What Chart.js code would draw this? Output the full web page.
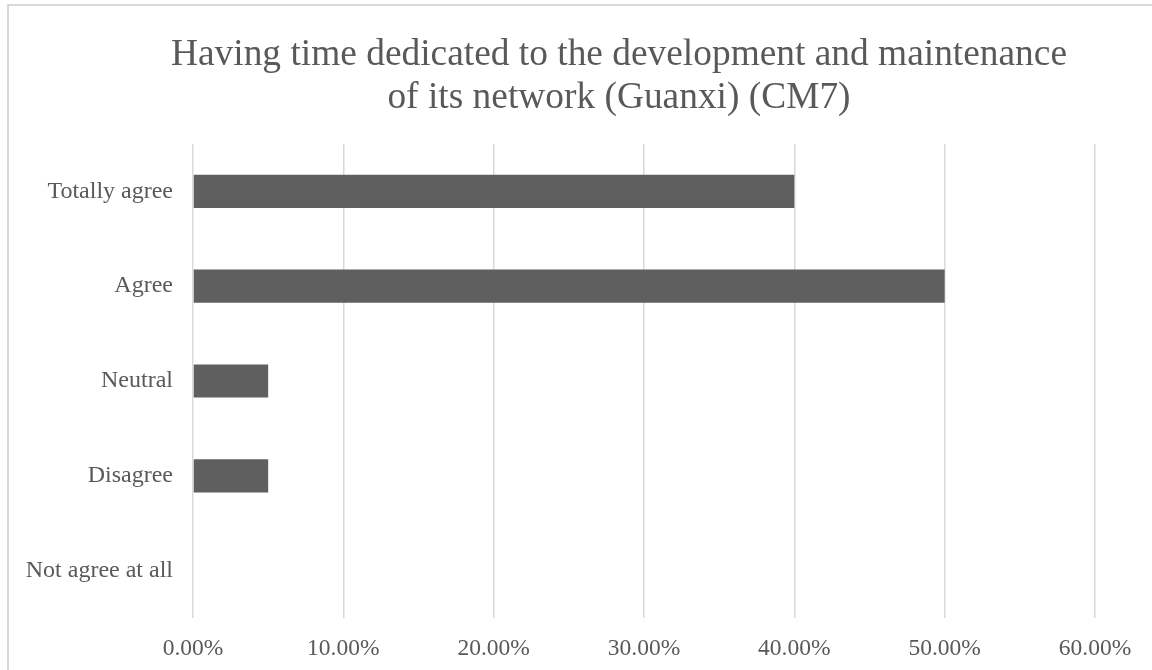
<!DOCTYPE html>
<html>
<head>
<meta charset="utf-8">
<script src="https://cdn.jsdelivr.net/npm/chart.js@4/dist/chart.umd.min.js"></script>
<style>
  html, body { margin: 0; padding: 0; background: #ffffff; }
  #wrap { width: 1152px; height: 670px; }
</style>
</head>
<body>
<div id="wrap"><canvas id="c" width="1152" height="670"></canvas></div>
<script>
const categories = ['Totally agree', 'Agree', 'Neutral', 'Disagree', 'Not agree at all'];
const percentValues = [40, 50, 5, 5, 0];
const xTickValues = [0, 10, 20, 30, 40, 50, 60];
const xTickLabels = ['0.00%', '10.00%', '20.00%', '30.00%', '40.00%', '50.00%', '60.00%'];
const titleLines = ['Having time dedicated to the development and maintenance', 'of its network (Guanxi) (CM7)'];

const serif = "'Liberation Serif', 'Times New Roman', 'DejaVu Serif', serif";
const textColor = '#595959';

const frame = {
  id: 'frame',
  beforeDraw(chart) {
    const ctx = chart.ctx;
    ctx.save();
    ctx.fillStyle = '#ffffff';
    ctx.fillRect(0, 0, chart.width, chart.height);
    ctx.strokeStyle = '#d9d9d9';
    ctx.lineWidth = 2;
    ctx.beginPath();
    ctx.moveTo(8, chart.height);
    ctx.lineTo(8, 5);
    ctx.lineTo(chart.width, 5);
    ctx.stroke();
    ctx.restore();
  },
  afterDraw(chart) {
    const ctx = chart.ctx;
    ctx.save();
    ctx.fillStyle = textColor;
    ctx.font = '37.4px ' + serif;
    ctx.textAlign = 'center';
    ctx.textBaseline = 'alphabetic';
    ctx.fillText(titleLines[0], 619, 65);
    ctx.fillText(titleLines[1], 619, 107.5);
    ctx.restore();
  }
};

new Chart(document.getElementById('c'), {
  type: 'bar',
  data: {
    labels: categories,
    datasets: [{
      data: percentValues,
      backgroundColor: '#5f5f5f',
      borderWidth: 0,
      categoryPercentage: 1.0,
      barPercentage: 0.35
    }]
  },
  options: {
    indexAxis: 'y',
    responsive: false,
    devicePixelRatio: 1,
    animation: false,
    layout: { padding: { left: 0, right: 57, top: 144, bottom: 0 } },
    plugins: {
      legend: { display: false },
      tooltip: { enabled: false },
      title: { display: false }
    },
    scales: {
      x: {
        type: 'linear',
        min: 0,
        max: 60,
        afterBuildTicks(scale) {
          scale.ticks = xTickValues.map(v => ({ value: v }));
        },
        afterFit(scale) { scale.height = 52; },
        grid: { color: '#d9d9d9', lineWidth: 1.5, drawTicks: false, tickLength: 0 },
        border: { display: false },
        ticks: {
          color: textColor,
          font: { family: serif, size: 23.5 },
          padding: 17,
          maxRotation: 0,
          callback: (v, i) => xTickLabels[i]
        }
      },
      y: {
        afterFit(scale) { scale.width = 193; },
        grid: { display: false, drawTicks: false, tickLength: 0 },
        border: { display: false },
        ticks: {
          color: textColor,
          font: { family: serif, size: 24 },
          padding: 20
        }
      }
    }
  },
  plugins: [frame]
});
</script>
</body>
</html>
